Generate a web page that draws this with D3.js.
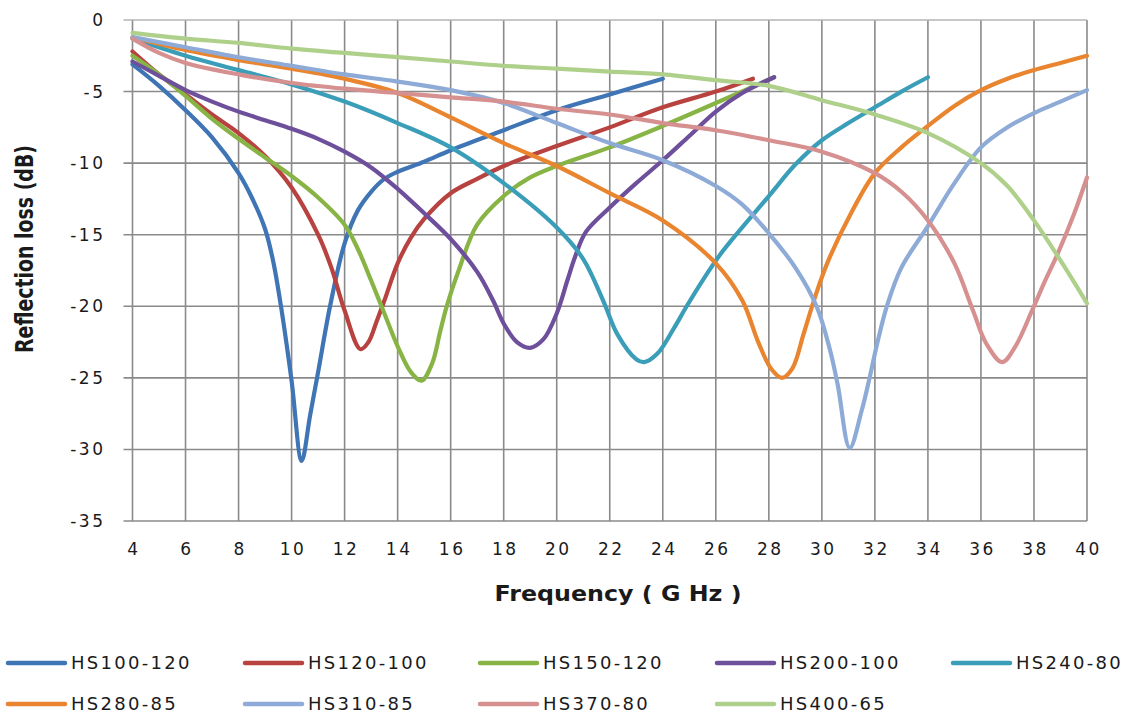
<!DOCTYPE html>
<html><head><meta charset="utf-8">
<script src="https://cdn.jsdelivr.net/npm/d3@7"></script>
<style>
html,body{margin:0;padding:0;background:#fff;}
svg{display:block;}
text{font-family:"DejaVu Sans",Verdana,sans-serif;fill:#1a1a1a;}
</style></head>
<body><svg id="chart" width="1131" height="714"></svg>
<script>
// ---- data (frequency GHz, reflection loss dB) ----
const seriesNames = ["HS100-120","HS120-100","HS150-120","HS200-100","HS240-80","HS280-85","HS310-85","HS370-80","HS400-65"];
const seriesColors = ["#3f74b5","#b8423f","#87b444","#6e4f9b","#3a9eb9","#e9842f","#8eaad6","#d69090","#afd08b"];
const xTicks = [4,6,8,10,12,14,16,18,20,22,24,26,28,30,32,34,36,38,40];
const yTicks = [0,-5,-10,-15,-20,-25,-30,-35];

const hs100_120 = [[4,-3.1],[5,-4.6],[6,-6.3],[7,-8.2],[8,-10.7],[8.5,-12.4],[9,-14.6],[9.3,-16.8],[9.6,-20],[10,-25.2],[10.38,-30.8],[10.7,-27.6],[11,-24.6],[11.45,-20],[12,-15.6],[12.5,-13.3],[13,-12],[13.5,-11.1],[14,-10.6],[15,-9.9],[16,-9.1],[18,-7.7],[20,-6.3],[22,-5.2],[24,-4.1]];
const hs120_100 = [[4,-2.2],[5,-3.8],[6,-5.2],[7,-6.6],[8,-7.9],[9,-9.5],[10,-11.7],[11,-15.0],[11.5,-17.3],[12,-20.3],[12.6,-23.0],[12.9,-22.5],[13.2,-21.1],[13.5,-19.6],[14,-17],[14.5,-15.2],[15,-13.9],[16,-12.1],[17,-11.1],[18,-10.2],[20,-8.8],[22,-7.5],[24,-6.1],[26,-5.0],[27.4,-4.1]];
const hs150_120 = [[4,-2.5],[5,-3.8],[6,-5.3],[7,-6.9],[8,-8.3],[9,-9.6],[10,-10.9],[11,-12.4],[12,-14.3],[12.5,-16.0],[13,-18.2],[13.5,-20.5],[14,-22.8],[14.5,-24.6],[14.9,-25.2],[15.3,-24],[15.6,-21.8],[15.85,-20],[16.3,-17.5],[17,-14.3],[18,-12.3],[19,-11],[20,-10.2],[22,-8.9],[24,-7.4],[26,-5.8],[28.2,-4.0]];
const hs200_100 = [[4,-2.9],[5,-3.9],[6,-4.9],[7,-5.7],[8,-6.4],[9,-7.0],[10,-7.6],[11,-8.3],[12,-9.2],[13,-10.3],[14,-11.8],[15,-13.5],[16,-15.3],[17,-17.6],[17.6,-19.6],[18,-21.2],[18.5,-22.5],[19,-22.9],[19.5,-22.3],[20,-20.5],[20.4,-18.2],[20.7,-16.5],[21.1,-14.8],[22,-13.1],[23,-11.4],[24,-9.8],[25,-8.1],[26,-6.4],[27,-5.1],[28.2,-4.0]];
const hs240_80 = [[4,-1.3],[6,-2.5],[8,-3.5],[10,-4.5],[12,-5.7],[14,-7.2],[16,-8.9],[18,-11.4],[20,-14.5],[21,-16.7],[21.75,-19.6],[22.3,-22],[23,-23.7],[23.3,-23.9],[23.8,-23.3],[24.4,-21.6],[24.9,-20],[25.5,-18.2],[26.2,-16.3],[26.9,-14.7],[28,-12.3],[29,-10.1],[30,-8.4],[31,-7.2],[32,-6.1],[33,-5.0],[34,-4.0]];
const hs280_85 = [[4,-1.2],[6,-2.1],[8,-2.8],[10,-3.4],[12,-4.1],[14,-5.1],[16,-6.8],[18,-8.6],[20,-10.2],[22,-12.1],[24,-14.0],[26,-17.0],[27,-19.6],[27.6,-22.5],[28.1,-24.4],[28.5,-25],[28.9,-24.3],[29.3,-22],[29.7,-19.6],[30.2,-17],[31.1,-13.5],[32,-10.7],[33,-8.9],[34,-7.4],[35,-6.0],[36,-4.9],[37,-4.1],[38,-3.5],[39,-3.0],[40,-2.5]];
const hs310_85 = [[4,-1.2],[6,-1.9],[8,-2.6],[10,-3.2],[12,-3.8],[14,-4.3],[16,-4.9],[18,-5.8],[20,-7.2],[22,-8.6],[24,-9.8],[26,-11.6],[27,-12.9],[28,-14.9],[29,-17.3],[29.8,-20],[30.3,-23],[30.6,-25.5],[31.05,-29.9],[31.5,-27.3],[31.8,-25],[32.1,-22.5],[32.45,-20],[33,-17.3],[34,-14.4],[35,-11.4],[36,-8.9],[37,-7.5],[38,-6.5],[39,-5.7],[40,-4.9]];
const hs370_80 = [[4,-1.3],[5,-2.3],[6,-3.0],[8,-3.8],[10,-4.4],[12,-4.8],[14,-5.1],[16,-5.4],[18,-5.7],[20,-6.2],[22,-6.6],[24,-7.2],[26,-7.7],[28,-8.4],[30,-9.2],[32,-10.7],[33,-12],[34,-14.0],[35,-17.0],[35.7,-20.3],[36.2,-22.6],[36.8,-23.9],[37.3,-22.8],[37.95,-20.2],[38.4,-18.3],[38.9,-16.3],[39.5,-13.6],[40,-11.0]];
const hs400_65 = [[4,-0.9],[6,-1.3],[8,-1.6],[10,-2.0],[12,-2.3],[14,-2.6],[16,-2.9],[18,-3.2],[20,-3.4],[22,-3.6],[24,-3.8],[26,-4.2],[28,-4.6],[30,-5.6],[32,-6.6],[34,-7.9],[36,-10.0],[37,-11.6],[38,-14.0],[39,-16.8],[40,-19.8]];

const seriesData = [hs100_120,hs120_100,hs150_120,hs200_100,hs240_80,hs280_85,hs310_85,hs370_80,hs400_65];

// ---- layout ----
const svg = d3.select("#chart");
const L = 132.5, T = 20, R = 1087, B = 521;
const x = d3.scaleLinear().domain([4,40]).range([L,R]);
const y = d3.scaleLinear().domain([-35,0]).range([B,T]);

const grid = svg.append("g");
grid.selectAll("line.v").data(xTicks).join("line")
  .attr("x1",d=>x(d)).attr("x2",d=>x(d)).attr("y1",T).attr("y2",B)
  .attr("stroke","#8a8a8a").attr("stroke-width",1.6);
grid.selectAll("line.h").data(yTicks).join("line")
  .attr("x1",L-9).attr("x2",R).attr("y1",d=>y(d)).attr("y2",d=>y(d))
  .attr("stroke",d=>d===0?"#b5b5b5":"#8a8a8a").attr("stroke-width",1.6);

const fmt = d => String(d);
const yAxis = svg.append("g").attr("transform",`translate(${L},0)`)
  .call(d3.axisLeft(y).tickValues(yTicks).tickSize(0).tickPadding(27).tickFormat(fmt));
yAxis.select(".domain").remove();
yAxis.selectAll("text").attr("font-size",17).attr("letter-spacing","2.5px")
  .attr("font-family","DejaVu Sans, Verdana, sans-serif").attr("fill","#1a1a1a");

const xAxis = svg.append("g").attr("transform",`translate(0,${B})`)
  .call(d3.axisBottom(x).tickValues(xTicks).tickSize(0).tickPadding(22).tickFormat(fmt));
xAxis.select(".domain").remove();
xAxis.selectAll("text").attr("font-size",17).attr("letter-spacing","2.5px").attr("dx","1px")
  .attr("font-family","DejaVu Sans, Verdana, sans-serif").attr("fill","#1a1a1a");

// series lines
const line = d3.line().x(d=>x(d[0])).y(d=>y(d[1])).curve(d3.curveCatmullRom.alpha(0.5));
svg.append("g").selectAll("path").data(seriesData).join("path")
  .attr("d",line).attr("fill","none")
  .attr("stroke",(d,i)=>seriesColors[i]).attr("stroke-width",4.2)
  .attr("stroke-linejoin","round").attr("stroke-linecap","round");

// axis titles
svg.append("text").attr("x",618).attr("y",601).attr("text-anchor","middle")
  .attr("font-family","DejaVu Sans, Verdana, sans-serif").attr("font-weight","bold")
  .attr("font-size",21).attr("textLength",247).attr("lengthAdjust","spacingAndGlyphs")
  .text("Frequency ( G Hz )");
svg.append("text").attr("transform","translate(33,249) rotate(-90)").attr("text-anchor","middle")
  .attr("font-family","Liberation Sans, Arial, sans-serif").attr("font-weight","bold")
  .attr("font-size",25).attr("textLength",208).attr("lengthAdjust","spacingAndGlyphs")
  .text("Reflection loss (dB)");

// legend
const legendCols = [8,245,480,717,953];
const legendRows = [663,704];
const lg = svg.append("g");
seriesNames.forEach((name,i)=>{
  const cx = legendCols[i%5], cy = legendRows[Math.floor(i/5)];
  lg.append("line").attr("x1",cx).attr("x2",cx+57).attr("y1",cy).attr("y2",cy)
    .attr("stroke",seriesColors[i]).attr("stroke-width",4.5).attr("stroke-linecap","round");
  lg.append("text").attr("x",cx+63).attr("y",cy+6).attr("font-size",18)
    .attr("letter-spacing","2.3px").text(name);
});
</script></body></html>
